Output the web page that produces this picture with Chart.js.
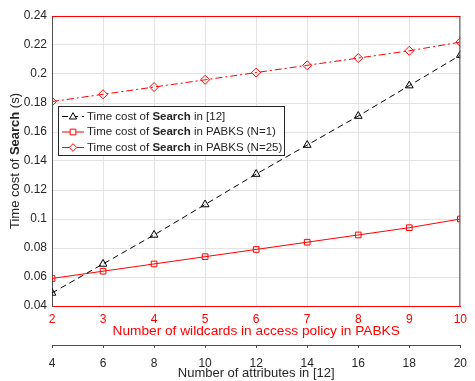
<!DOCTYPE html>
<html>
<head>
<meta charset="utf-8">
<script src="https://cdn.jsdelivr.net/npm/chart.js@4"></script>
<style>
  html, body { margin: 0; padding: 0; background: #fff; }
</style>
</head>
<body>
<canvas id="searchChart" width="475" height="381"></canvas>
<script>
// x values of the two bottom axes
const wildcards = [2, 3, 4, 5, 6, 7, 8, 9, 10];
const attributes = [4, 6, 8, 10, 12, 14, 16, 18, 20];

// search time (s)
const costRef12 = [0.049, 0.069, 0.089, 0.110, 0.131, 0.151, 0.171, 0.192, 0.213];
const costPabksN1 = [0.059, 0.064, 0.069, 0.074, 0.079, 0.084, 0.089, 0.094, 0.100];
const costPabksN25 = [0.181, 0.186, 0.191, 0.196, 0.201, 0.206, 0.211, 0.216, 0.222];

const yTicks = [0.04, 0.06, 0.08, 0.1, 0.12, 0.14, 0.16, 0.18, 0.2, 0.22, 0.24];

const FONT = "'Liberation Sans', Arial, Helvetica, sans-serif";
const RED = "#ff0000";
const DARK = "#262626";
const AXIS = "#4d4d4d";
const GRID = "#e3e3e3";

const legendItems = [
    { pre: "Time cost of ", bold: "Search", post: " in [12]", color: "#000", dash: [6, 4], marker: "triangle" },
    { pre: "Time cost of ", bold: "Search", post: " in PABKS (N=1)", color: RED, dash: [], marker: "rect" },
    { pre: "Time cost of ", bold: "Search", post: " in PABKS (N=25)", color: RED, dash: [7, 3, 2, 3], marker: "rectRot" },
];

function drawMarker(ctx, type, x, y, r) {
    ctx.beginPath();
    if (type === "triangle") {
        ctx.moveTo(x, y - r);
        ctx.lineTo(x + r * 0.95, y + r * 0.65);
        ctx.lineTo(x - r * 0.95, y + r * 0.65);
        ctx.closePath();
    } else if (type === "rect") {
        ctx.rect(x - r * 0.75, y - r * 0.75, r * 1.5, r * 1.5);
    } else {
        ctx.moveTo(x, y - r);
        ctx.lineTo(x + r, y);
        ctx.lineTo(x, y + r);
        ctx.lineTo(x - r, y);
        ctx.closePath();
    }
    ctx.fill();
    ctx.stroke();
}

// box edges, legend and the y title with its bold word
const decorPlugin = {
    id: "decor",
    afterDraw(chart) {
        const ctx = chart.ctx;
        const a = chart.chartArea;
        ctx.save();

        // top edge (red axes box) and right edge
        ctx.lineWidth = 1;
        ctx.strokeStyle = RED;
        ctx.beginPath();
        ctx.moveTo(a.left, a.top + 0.5);
        ctx.lineTo(a.right, a.top + 0.5);
        ctx.stroke();
        ctx.strokeStyle = AXIS;
        ctx.beginPath();
        ctx.moveTo(a.right - 0.5, a.top);
        ctx.lineTo(a.right - 0.5, a.bottom);
        ctx.stroke();

        // legend
        const lx = 58, ly = 106, lw = 226, lh = 49;
        ctx.fillStyle = "#fff";
        ctx.fillRect(lx, ly, lw, lh);
        ctx.strokeStyle = DARK;
        ctx.strokeRect(lx + 0.5, ly + 0.5, lw, lh);
        ctx.textBaseline = "middle";
        legendItems.forEach((item, i) => {
            const y = ly + 10.5 + i * 15.5;
            ctx.strokeStyle = item.color;
            ctx.lineWidth = 1;
            ctx.setLineDash(item.dash);
            ctx.beginPath();
            ctx.moveTo(62, y);
            ctx.lineTo(84, y);
            ctx.stroke();
            ctx.setLineDash([]);
            ctx.fillStyle = "#fff";
            drawMarker(ctx, item.marker, 73, y, 3.8);
            let x = 87;
            ctx.fillStyle = DARK;
            ctx.font = "11.5px " + FONT;
            ctx.fillText(item.pre, x, y);
            x += ctx.measureText(item.pre).width;
            ctx.font = "bold 11.5px " + FONT;
            ctx.fillText(item.bold, x, y);
            x += ctx.measureText(item.bold).width;
            ctx.font = "11.5px " + FONT;
            ctx.fillText(item.post, x, y);
        });

        // y title
        const parts = [["Time cost of ", "13px"], ["Search", "bold 13px"], [" (s)", "13px"]];
        let total = 0;
        parts.forEach(p => { ctx.font = p[1] + " " + FONT; total += ctx.measureText(p[0]).width; });
        ctx.translate(15, (a.top + a.bottom) / 2);
        ctx.rotate(-Math.PI / 2);
        ctx.fillStyle = DARK;
        ctx.textBaseline = "middle";
        let tx = -total / 2;
        parts.forEach(p => {
            ctx.font = p[1] + " " + FONT;
            ctx.fillText(p[0], tx, 0);
            tx += ctx.measureText(p[0]).width;
        });
        ctx.restore();
    }
};

const ctx = document.getElementById("searchChart").getContext("2d");

new Chart(ctx, {
    type: "line",
    data: {
        datasets: [
            {
                label: "Time cost of Search in [12]",
                data: attributes.map((v, i) => ({ x: v, y: costRef12[i] })),
                xAxisID: "x2",
                borderColor: "#000",
                borderWidth: 1,
                borderDash: [6, 4],
                pointStyle: "triangle",
                pointRadius: 4.5,
                pointBorderColor: "#000",
                pointBackgroundColor: "rgba(0,0,0,0)",
                pointBorderWidth: 1,
                tension: 0,
            },
            {
                label: "Time cost of Search in PABKS (N=1)",
                data: wildcards.map((v, i) => ({ x: v, y: costPabksN1[i] })),
                xAxisID: "x",
                borderColor: RED,
                borderWidth: 1,
                pointStyle: "rect",
                pointRadius: 4,
                pointBorderColor: RED,
                pointBackgroundColor: "rgba(0,0,0,0)",
                pointBorderWidth: 1,
                tension: 0,
            },
            {
                label: "Time cost of Search in PABKS (N=25)",
                data: wildcards.map((v, i) => ({ x: v, y: costPabksN25[i] })),
                xAxisID: "x",
                borderColor: RED,
                borderWidth: 1,
                borderDash: [7, 3, 2, 3],
                pointStyle: "rectRot",
                pointRadius: 4.5,
                pointBorderColor: RED,
                pointBackgroundColor: "rgba(0,0,0,0)",
                pointBorderWidth: 1,
                tension: 0,
            },
        ],
    },
    options: {
        responsive: false,
        animation: false,
        layout: { padding: { top: 16, right: 12, left: 0, bottom: 0 } },
        plugins: {
            legend: { display: false },
            tooltip: { enabled: false },
        },
        scales: {
            x: {
                type: "linear",
                position: "bottom",
                min: 2,
                max: 10,
                afterBuildTicks: s => { s.ticks = wildcards.map(v => ({ value: v })); },
                ticks: { color: RED, font: { family: FONT, size: 12 }, padding: 6, maxRotation: 0 },
                grid: { color: GRID, drawTicks: false },
                border: { color: RED },
                title: { display: true, text: "Number of wildcards in access policy in PABKS", color: RED, font: { family: FONT, size: 13.7 }, padding: { top: 0, bottom: 6 } },
                afterFit: s => { s.height = 39; },
            },
            x2: {
                type: "linear",
                position: "bottom",
                min: 4,
                max: 20,
                afterBuildTicks: s => { s.ticks = attributes.map(v => ({ value: v })); },
                ticks: { color: DARK, font: { family: FONT, size: 12 }, padding: 8, maxRotation: 0 },
                grid: { drawOnChartArea: false, tickLength: 3, color: AXIS },
                border: { color: AXIS },
                title: { display: true, text: "Number of attributes in [12]", color: DARK, font: { family: FONT, size: 13 }, padding: 0 },
                afterFit: s => { s.height = 36; },
            },
            y: {
                min: 0.04,
                max: 0.24,
                afterBuildTicks: s => { s.ticks = yTicks.map(v => ({ value: v })); },
                ticks: { color: DARK, font: { family: FONT, size: 12 }, padding: 5, callback: v => String(+v.toFixed(2)) },
                grid: { color: GRID, drawTicks: false },
                border: { color: AXIS },
                afterFit: s => { s.width = 52; },
            },
        },
    },
    plugins: [decorPlugin],
});
</script>
</body>
</html>
